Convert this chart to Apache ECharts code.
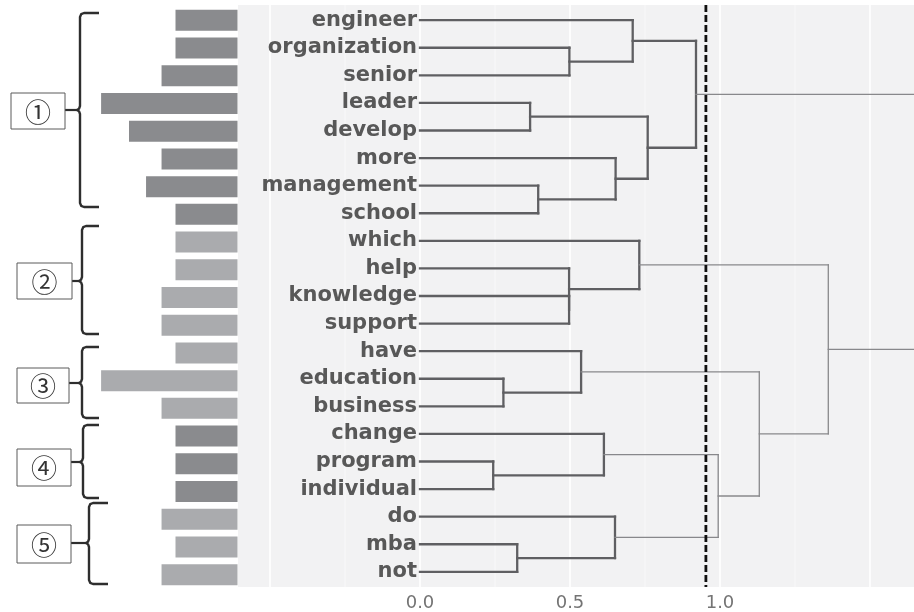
<!DOCTYPE html>
<html><head><meta charset="utf-8">
<script src="https://cdn.jsdelivr.net/npm/echarts@6/dist/echarts.min.js"></script>
<style>html,body{margin:0;padding:0;background:#fff}#c{width:914px;height:612px}</style>
</head><body><div id="c"></div>
<script>
// ---- data ----
const leaves = ['engineer','organization','senior','leader','develop','more','management','school','which','help','knowledge','support','have','education','business','change','program','individual','do','mba','not'];
const wordFreq = [40,40,49,88,70,49,59,40,40,40,49,49,40,88,49,40,40,40,49,40,49];
const clusterOf = [1,1,1,1,1,1,1,1,2,2,2,2,3,3,3,4,4,4,5,5,5];
// hclust-style merges: negative = leaf row (1-based), positive = earlier merge (1-based)
const mergeA = [-2,-1,-4,-7,-6,3,2,-11,-10,-9,-14,-13,-17,-16,-20,-19,14,12,10,7];
const mergeB = [-3,1,-5,-8,4,5,6,-12,8,9,-15,11,-18,13,-21,15,16,17,18,19];
const mergeHeight = [0.498,0.709,0.367,0.394,0.652,0.759,0.92,0.497,0.497,0.731,0.278,0.537,0.244,0.613,0.324,0.65,0.994,1.131,1.361,2.0];
const cutHeight = 0.953;
const xTickLabels = [0, 0.5, 1.0];
const gridValues = [-0.5,-0.25,0,0.25,0.5,0.75,1.0,1.25,1.5];
const clusterTags = ['①','②','③','④','⑤'];

// ---- layout ----
const X_MIN = -0.6067, X_MAX = 1.6467, Y_MIN = 0.45, Y_MAX = 21.55;
const PANEL = {left: 238, top: 5, width: 676, height: 585};
const BARS = {left: 98, top: 6.5, width: 139.5, height: 582};
const darkBar = '#8a8b8e', lightBar = '#aaabae';

// build dendrogram segments
const nodeY = [], nodeH = [];
function pos(ref){ return ref < 0 ? {y: -ref, h: 0} : {y: nodeY[ref-1], h: nodeH[ref-1]}; }
const segs = [];
for (let i = 0; i < mergeA.length; i++) {
  const a = pos(mergeA[i]), b = pos(mergeB[i]), h = mergeHeight[i];
  const thin = h > cutHeight ? 1 : 0;
  segs.push([a.h, a.y, h, a.y, thin]);
  segs.push([b.h, b.y, h, b.y, thin]);
  segs.push([h, a.y, h, b.y, thin]);
  nodeY[i] = (a.y + b.y) / 2; nodeH[i] = h;
}
const rows = leaves.map((_, i) => i + 1);

// bracket annotations (pixel layout)
const brackets = [
  {bx: 11, by: 93, bw: 54, bh: 36, xv: 80, yt: 13, yb: 207, ym: 110, xe: 99},
  {bx: 17, by: 263, bw: 55, bh: 36, xv: 82, yt: 226, yb: 334, ym: 281, xe: 99},
  {bx: 17, by: 368, bw: 52, bh: 35, xv: 82, yt: 347, yb: 418, ym: 383, xe: 99},
  {bx: 17, by: 449, bw: 54, bh: 37, xv: 83, yt: 425, yb: 498, ym: 462, xe: 99},
  {bx: 17, by: 525, bw: 54, bh: 38, xv: 89, yt: 503, yb: 584, ym: 543, xe: 108}
];
const graphics = [];
brackets.forEach((b, i) => {
  const pts = [
    [b.xe, b.yt], [b.xv + 4, b.yt], [b.xv + 1.2, b.yt + 1.2], [b.xv, b.yt + 4],
    [b.xv, b.ym - 4], [b.xv - 1, b.ym - 1.2], [b.xv - 3, b.ym], [b.xv - 1, b.ym + 1.2], [b.xv, b.ym + 4],
    [b.xv, b.yb - 4], [b.xv + 1.2, b.yb - 1.2], [b.xv + 4, b.yb], [b.xe, b.yb]
  ];
  graphics.push({type: 'polyline', shape: {points: pts}, style: {stroke: '#2e2e2e', lineWidth: 2.4, fill: null, lineJoin: 'round'}, silent: true});
  graphics.push({type: 'line', shape: {x1: b.bx + b.bw, y1: b.ym, x2: b.xv - 3, y2: b.ym}, style: {stroke: '#2e2e2e', lineWidth: 2.2}, silent: true});
  graphics.push({type: 'rect', shape: {x: b.bx, y: b.by, width: b.bw, height: b.bh}, style: {fill: '#fff', stroke: '#5a5a5a', lineWidth: 1}, silent: true});
  graphics.push({type: 'text', x: b.bx + b.bw / 2, y: b.by + b.bh / 2 + 1, style: {text: clusterTags[i], fontSize: 26, fontFamily: 'Noto Sans CJK JP', fill: '#333', align: 'center', verticalAlign: 'middle'}, silent: true});
});

const chart = echarts.init(document.getElementById('c'), null, {renderer: 'canvas'});
chart.setOption({
  animation: false,
  backgroundColor: '#fff',
  graphic: graphics,
  grid: [
    Object.assign({containLabel: false, show: false}, BARS),
    Object.assign({containLabel: false, show: true, backgroundColor: '#f2f2f3', borderWidth: 0}, PANEL)
  ],
  xAxis: [
    {gridIndex: 0, type: 'value', inverse: true, min: 0, max: 90, show: false},
    {gridIndex: 1, type: 'value', min: X_MIN, max: X_MAX, z: 10,
     axisLine: {show: false}, axisTick: {show: false}, splitLine: {show: false},
     axisLabel: {customValues: xTickLabels, formatter: v => Number(v).toFixed(1), color: '#747474', fontSize: 18, margin: 7, fontFamily: 'DejaVu Sans'}}
  ],
  yAxis: [
    {gridIndex: 0, type: 'category', data: leaves, inverse: true, show: false},
    {gridIndex: 1, type: 'value', inverse: true, min: Y_MIN, max: Y_MAX, z: 10,
     offset: -PANEL.width * (0 - X_MIN) / (X_MAX - X_MIN),
     axisLine: {show: false, onZero: false}, axisTick: {show: false}, splitLine: {show: false},
     axisLabel: {customValues: rows, formatter: v => leaves[Math.round(v) - 1] || '', color: '#585858', fontSize: 21, fontWeight: 'bold', fontFamily: 'DejaVu Sans', margin: 3}}
  ],
  series: [
    {type: 'bar', xAxisIndex: 0, yAxisIndex: 0, barWidth: 21, silent: true,
     data: wordFreq.map((v, i) => ({value: v, itemStyle: {color: (clusterOf[i] === 1 || clusterOf[i] === 4) ? darkBar : lightBar}}))},
    {type: 'custom', xAxisIndex: 1, yAxisIndex: 1, silent: true, z: 1,
     data: gridValues.map(v => [v]),
     renderItem: (p, api) => {
       const v = api.value(0);
       const a = api.coord([v, Y_MIN]), b = api.coord([v, Y_MAX]);
       const major = Math.abs(v * 2 - Math.round(v * 2)) < 1e-6;
       return {type: 'line', shape: {x1: a[0], y1: a[1], x2: b[0], y2: b[1]}, style: {stroke: major ? '#ffffff' : '#f9f9fa', lineWidth: major ? 1.6 : 1}};
     }},
    {type: 'custom', xAxisIndex: 1, yAxisIndex: 1, silent: true, z: 3,
     data: segs, encode: {x: [0, 2], y: [1, 3]},
     renderItem: (p, api) => {
       const p1 = api.coord([api.value(0), api.value(1)]);
       const p2 = api.coord([api.value(2), api.value(3)]);
       const thin = api.value(4);
       return {type: 'line', shape: {x1: p1[0], y1: p1[1], x2: p2[0], y2: p2[1]},
               style: {stroke: thin ? '#88888b' : '#5f5f62', lineWidth: thin ? 1.3 : 2.3, lineCap: 'square'}};
     }},
    {type: 'custom', xAxisIndex: 1, yAxisIndex: 1, silent: true, z: 4,
     data: [[cutHeight]],
     renderItem: (p, api) => {
       const v = api.value(0);
       const a = api.coord([v, Y_MIN]), b = api.coord([v, Y_MAX]);
       return {type: 'line', shape: {x1: a[0], y1: a[1], x2: b[0], y2: b[1]}, style: {stroke: '#111', lineWidth: 2.8, lineDash: [7, 3]}};
     }}
  ]
});
</script>
</body></html>
